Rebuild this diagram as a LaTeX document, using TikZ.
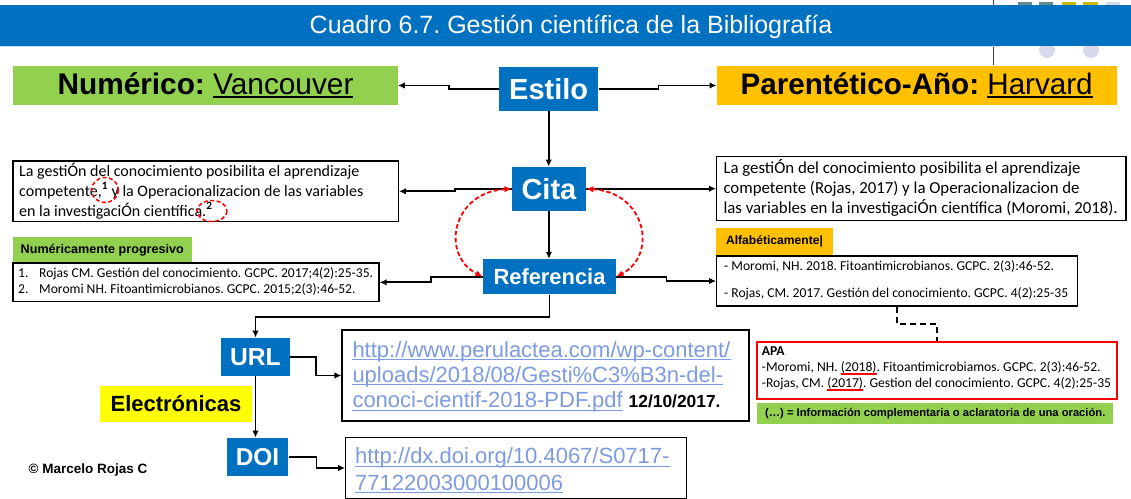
\documentclass[tikz,border=0pt]{standalone}
\usepackage{fontspec}
\setmainfont{Liberation Sans}
\newfontfamily\calfont{Carlito}
\usetikzlibrary{arrows.meta}
\definecolor{ppblue}{RGB}{0,112,192}
\definecolor{ppgreen}{RGB}{146,208,80}
\definecolor{pporange}{RGB}{255,192,0}
\definecolor{ppyellow}{RGB}{255,255,0}
\definecolor{linkblue}{RGB}{125,155,225}
\definecolor{lavend}{RGB}{217,217,238}
\definecolor{tealdec}{RGB}{95,140,140}
\definecolor{oliveyel}{RGB}{200,185,0}
\newsavebox\myulbox
\newcommand\colul[4]{\sbox\myulbox{#4}\rlap{\textcolor{#1}{\rule[-#2]{\wd\myulbox}{#3}}}\usebox\myulbox}
\frenchspacing
\begin{document}
\frenchspacing
\begin{tikzpicture}[x=1pt,y=-1pt,
  lbl/.style={draw=none, inner sep=0pt},
  bluebox/.style={lbl, fill=ppblue, text=white},
  tbox/.style={draw=black, line width=1.2, fill=white, inner sep=0pt},
  txt/.style={anchor=base west, inner sep=0pt},
  calA/.style={txt, font=\calfont\fontsize{16}{20}\selectfont},
  calB/.style={txt, font=\calfont\fontsize{16.8}{20}\selectfont},
  calS/.style={txt, font=\calfont\fontsize{13.6}{16}\selectfont},
  linktxt/.style={txt, text=linkblue, font=\fontsize{22}{26}\selectfont},
  linkul/.style={linkblue, line width=1.3},
  arr/.style={line width=1.7, -{Latex[length=7pt,width=6.5pt]}},
  redarr/.style={red, line width=1.8, dash pattern=on 4.5pt off 2.5pt, {Latex[length=7pt,width=6.5pt]}-{Latex[length=7pt,width=6.5pt]}},
  reddash/.style={red, line width=1.5, dash pattern=on 4pt off 2.5pt},
  dashline/.style={line width=2, dash pattern=on 6pt off 4pt}]
\clip (0,0) rectangle (1131,498);
\fill[white] (0,0) rectangle (1131,498);
% template decorations
\fill[tealdec] (1018,2) rectangle (1032,8);
\fill[tealdec] (1039,2) rectangle (1053,8);
\fill[oliveyel] (1062,2) rectangle (1076,8);
\fill[oliveyel] (1083,2) rectangle (1098,8);
\fill[lavend] (1106,2) rectangle (1120,8);
\fill[lavend] (1047,50) circle [radius=8];
\fill[lavend] (1091,50) circle [radius=8];
\draw[line width=0.8, black!75] (993,0) -- (993,65);
% title bar
\fill[ppblue] (0,5) rectangle (1131,45.7);
\draw[ppblue!25, line width=0.8] (0,46.4) -- (1000,46.4);
\node[lbl, text=white, font=\fontsize{25}{30}\selectfont, text height=17.9pt, text depth=1.5pt] (title) at (571,25.3) {Cuadro 6.7. Gestión científica de la Bibliografía};

% top level
\node[lbl, fill=ppgreen, minimum width=384.4, minimum height=39, font=\fontsize{29.8}{34}\selectfont, text height=21pt, text depth=4pt] (num) at (205.5,85.5) {\textbf{Numérico:} \colul{black}{4.2pt}{1.8pt}{Vancouver}};
\node[lbl, fill=pporange, minimum width=400, minimum height=39, font=\fontsize{29.6}{34}\selectfont, text height=21pt, text depth=4pt] (par) at (916.7,85.5) {\textbf{Parentético-Año:} \colul{black}{4.2pt}{1.8pt}{Harvard}};
\node[bluebox, minimum width=99.3, minimum height=44.3, font=\bfseries\fontsize{29}{34}\selectfont, text height=21pt, text depth=0pt] (estilo) at (548.7,88.9) {Estilo};
\node[bluebox, minimum width=74.3, minimum height=44.3, font=\bfseries\fontsize{29}{34}\selectfont, text height=21pt, text depth=0pt] (cita) at (548.9,188.9) {Cita};
\node[bluebox, minimum width=133.4, minimum height=35.3, font=\bfseries\fontsize{21.9}{26}\selectfont, text height=15.8pt, text depth=0pt] (ref) at (549.5,276.7) {Referencia};
\node[bluebox, minimum width=69, minimum height=38.3, font=\bfseries\fontsize{24.6}{28}\selectfont, text height=17.6pt, text depth=0pt] (url) at (255.5,356.9) {URL};
\node[bluebox, minimum width=61.6, minimum height=38.3, font=\bfseries\fontsize{24.4}{28}\selectfont, text height=17.5pt, text depth=0pt] (doi) at (257.5,456.9) {DOI};

% left citation box
\node[tbox, minimum width=385.3, minimum height=60.7] (lcit) at (205.7,191.3) {};
\node[calA] (lcitA) at (19,176) {La gestiÓn del conocimiento posibilita el aprendizaje};
\node[calA] (lcitB) at (19,196) {competente,\textsuperscript{\bfseries 1} y la Operacionalizacion de las variables};
\node[calA] (lcitC) at (19,216) {en la investigaciÓn científica.\textsuperscript{\bfseries 2}};
\draw[reddash] (105,190) ellipse [x radius=13.5, y radius=12.5];
\draw[reddash] (212,211) ellipse [x radius=15, y radius=10.5];

% right citation box
\node[tbox, minimum width=409.3, minimum height=64] (rcit) at (921.3,188.7) {};
\node[calB] (rcitA) at (723.3,173) {La gestiÓn del conocimiento posibilita el aprendizaje};
\node[calB] (rcitB) at (723.3,193) {competente (Rojas, 2017) y la Operacionalizacion de};
\node[calB] (rcitC) at (723.3,213) {las variables en la investigaciÓn científica (Moromi, 2018).};

% numeric list
\node[lbl, fill=ppgreen, minimum width=178.7, minimum height=25.4, font=\bfseries\fontsize{12.6}{15}\selectfont] (nprog) at (102.3,250) {Numéricamente progresivo};
\node[tbox, minimum width=366, minimum height=38.7] (llist) at (196,282.3) {};
\node[calS] (llistA) at (18,277.5) {\makebox[21pt][l]{1.}Rojas CM. Gestión del conocimiento. GCPC. 2017;4(2):25-35.};
\node[calS] (llistB) at (18,293) {\makebox[21pt][l]{2.}Moromi NH. Fitoantimicrobianos. GCPC. 2015;2(3):46-52.};

% alphabetic list
\node[lbl, fill=pporange, minimum width=117, minimum height=27, font=\bfseries\fontsize{12.1}{15}\selectfont] (alfab) at (774.5,241.5) {Alfabéticamente|};
\node[tbox, minimum width=361, minimum height=50] (rlist) at (897.2,281) {};
\node[calS] (rlistA) at (724,270.5) {- Moromi, NH. 2018. Fitoantimicrobianos. GCPC. 2(3):46-52.};
\node[calS] (rlistB) at (724,297) {- Rojas, CM. 2017. Gestión del conocimiento. GCPC. 4(2):25-35};

% APA box
\node[tbox, draw=red, line width=2.2, minimum width=360, minimum height=57.6] (apa) at (936.7,370.5) {};
\node[calS] (apaA) at (761.7,355.5) {\textbf{APA}};
\node[calS] (apaB) at (761.7,371.5) {-Moromi, NH. \colul{red}{3.8pt}{2.2pt}{(2018)}. Fitoantimicrobiamos. GCPC. 2(3):46-52.};
\node[calS] (apaC) at (761.7,387.5) {-Rojas, CM. \colul{red}{3.8pt}{2.2pt}{(2017)}. Gestion del conocimiento. GCPC. 4(2):25-35};
\node[lbl, fill=ppgreen, minimum width=356, minimum height=21, font=\bfseries\fontsize{11.2}{13}\selectfont] (note) at (935.3,413.5) {(…) = Información complementaria o aclaratoria de una oración.};

% electronic references
\node[tbox, minimum width=407, minimum height=91] (urll) at (545.5,375.5) {};
\node[linktxt] (urlA) at (352.3,357) {http://www.perulactea.com/wp-content/};
\node[linktxt] (urlB) at (352.3,382) {uploads/2018/08/Gesti\%C3\%B3n-del-};
\node[linktxt] (urlC) at (352.3,407.5) {conoci-cientif-2018-PDF.pdf};
\node[txt, font=\bfseries\fontsize{17.4}{20}\selectfont] (urlD) at ([xshift=5.5pt]urlC.base east) {12/10/2017.};
\draw[linkul] ([yshift=-2.8pt]urlA.base west) -- ([yshift=-2.8pt]urlA.base east);
\draw[linkul] ([yshift=-2.8pt]urlB.base west) -- ([yshift=-2.8pt]urlB.base east);
\draw[linkul] ([yshift=-2.8pt]urlC.base west) -- ([yshift=-2.8pt]urlC.base east);

\node[tbox, minimum width=341, minimum height=60.6] (doil) at (516.2,468) {};
\node[linktxt] (doiA) at (355,463.5) {http://dx.doi.org/10.4067/S0717-};
\node[linktxt] (doiB) at (355,490) {77122003000100006};
\draw[linkul] ([yshift=-2.8pt]doiA.base west) -- ([yshift=-2.8pt]doiA.base east);
\draw[linkul] ([yshift=-2.8pt]doiB.base west) -- ([yshift=-2.8pt]doiB.base east);

\node[lbl, fill=ppyellow, minimum width=152, minimum height=36, font=\bfseries\fontsize{22}{26}\selectfont, text height=15.8pt, text depth=0pt] (elec) at (176,404) {Electrónicas};
\node[lbl, font=\bfseries\fontsize{13.5}{16}\selectfont] (copy) at (88,470) {© Marcelo Rojas C};

% connectors
\draw[arr] (estilo.west) -- ++(-49.7,0) |- (num.east);
\draw[arr] (estilo.east) -- ++(60,0) |- (par.west);
\draw[arr] (estilo.south) -- (estilo.south |- cita.north);
\draw[arr] (cita.west) -- ++(-56.7,0) |- (lcit.east);
\draw[arr] (cita.east) -- ++(65,0) |- (rcit.west);
\draw[arr] (cita.south) -- (cita.south |- ref.north);
\draw[arr] (ref.west) -- ++(-51.6,0) |- (llist.east);
\draw[arr] (ref.east) -- ++(50,0) |- (rlist.west);
\draw[arr] (ref.south) -- ++(0,22.3) -| (url.north);
\draw[arr] (url.east) -- ++(26,0) |- (urll.west);
\draw[arr] (url.south) -- (url.south |- doi.north);
\draw[arr] (doi.east) -- ++(28,0) |- (doil.west);
\draw[dashline] (rlist.south) -- ++(0,17.5) -| (apa.north);
\draw[redarr] (cita.west) .. controls (452,192) and (440,255) .. (ref.west);
\draw[redarr] (cita.east) .. controls (646,192) and (658,255) .. (ref.east);
\end{tikzpicture}
\end{document}
